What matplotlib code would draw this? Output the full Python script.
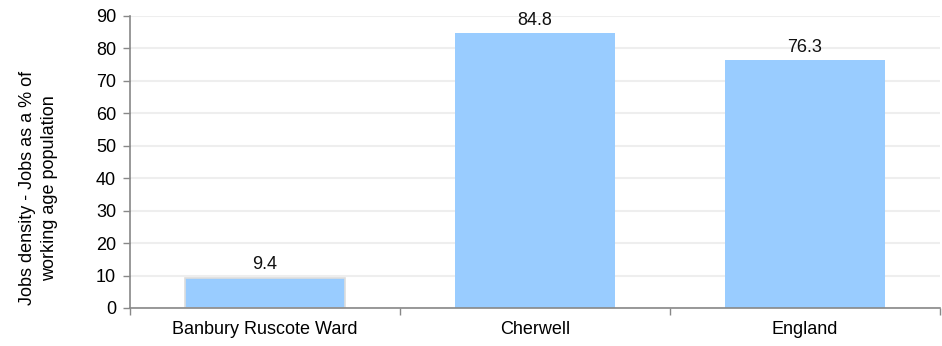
import numpy as np
import matplotlib.pyplot as plt

plt.rcParams['font.family'] = ['Liberation Sans', 'DejaVu Sans']

categories = ["Banbury Ruscote Ward", "Cherwell", "England"]
values = [9.4, 84.8, 76.3]
yticks = [0, 10, 20, 30, 40, 50, 60, 70, 80, 90]

FS = 13

W, H = 942, 346
fig = plt.figure(figsize=(W / 100, H / 100), dpi=100)
ax = fig.add_axes([130 / W, (H - 308) / H, 810 / W, 292 / H])

x = np.arange(len(categories))
bars = ax.bar(x, values, width=0.59, color="#99CCFF", zorder=2)
bars[0].set_edgecolor("#dddddd")
bars[0].set_linewidth(1.2)

for xi, v in zip(x, values):
    ax.text(xi, v + 1.3, f"{v:.1f}", ha="center", va="bottom", fontsize=FS, color="#111111")

ax.set_xlim(-0.5, len(categories) - 0.5)
ax.set_ylim(0, 90)
ax.set_yticks(yticks)
ax.set_yticklabels([str(t) for t in yticks], fontsize=FS)
ax.set_xticks(x)
ax.set_xticklabels(categories, fontsize=FS)
ax.tick_params(axis="x", length=0, pad=9)
ax.set_xticks(np.arange(-0.5, len(categories), 1), minor=True)
ax.tick_params(axis="x", which="minor", length=5, color="#888888", width=1)
ax.tick_params(axis="y", length=5, color="#888888", width=1, pad=5)

ax.grid(axis="y", color="#eeeeee", linewidth=1.5, zorder=0)
ax.set_axisbelow(True)
for s in ["top", "right"]:
    ax.spines[s].set_visible(False)
for s in ["left", "bottom"]:
    ax.spines[s].set_color("#888888")
    ax.spines[s].set_linewidth(1.2)

ax.set_ylabel("Jobs density - Jobs as a % of\nworking age population", fontsize=FS,
              linespacing=1.4)
ax.yaxis.set_label_coords(-0.089, 0.41)

fig.savefig("out.png", dpi=100)
